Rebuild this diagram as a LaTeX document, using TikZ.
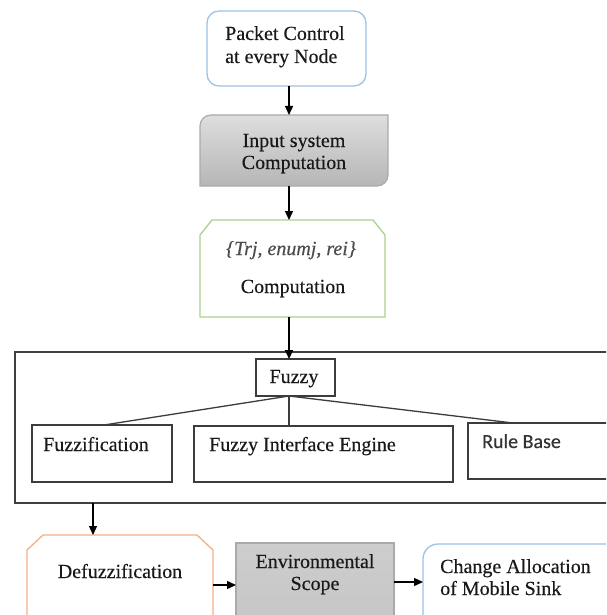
\documentclass[tikz,border=0pt]{standalone}
\usepackage{fontspec}
\setmainfont{Liberation Serif}[FakeBold=0.35]
\newfontfamily\calib{Carlito}[FakeBold=0.35]
\usetikzlibrary{arrows.meta,calc}
\definecolor{bluec}{RGB}{157,195,230}
\definecolor{greenc}{RGB}{169,209,142}
\definecolor{orangec}{RGB}{244,177,131}
\definecolor{grayline}{RGB}{170,170,170}
\definecolor{graytop}{RGB}{222,222,222}
\definecolor{graybot}{RGB}{182,182,182}
\definecolor{envfill}{RGB}{196,196,196}
\definecolor{darkline}{RGB}{60,60,60}
\tikzset{
  holder/.style={rectangle, inner sep=0pt, outer sep=0pt},
  txt/.style={font=\fontsize{20}{23}\selectfont, inner sep=0pt, text=black!90},
  bluebox/.style={holder, draw=bluec, line width=1.3pt},
  plainbox/.style={holder, draw=darkline, line width=1.4pt},
  arr/.style={-{Triangle[length=9pt,width=8pt]}, line width=1.3pt, black},
  ln/.style={line width=1.3pt, darkline},
}
\begin{document}
\begin{tikzpicture}[x=1pt,y=1pt]
\useasboundingbox (0,0) rectangle (606,-615);
\clip (0,0) rectangle (606,-615);
\fill[white] (0,0) rectangle (606,-615);

% top box
\node[bluebox, rounded corners=12pt, minimum width=159pt, minimum height=75pt] (pc) at (286.5,-48.5) {};
\node[txt, anchor=base west] (pc1) at (225,-40) {Packet Control};
\node[txt, anchor=base west] (pc2) at (225,-63) {at every Node};

% input system box
\node[holder, minimum width=188pt, minimum height=71pt] (inp) at (294,-150.5) {};
\draw[draw=grayline, line width=1.2pt, top color=graytop, bottom color=graybot]
  (inp.south west) -- ([yshift=-11pt]inp.north west) arc[start angle=180,end angle=90,radius=11pt]
  -- (inp.north east) -- ([yshift=11pt]inp.south east) arc[start angle=0,end angle=-90,radius=11pt] -- cycle;
\node[txt, anchor=base] (inp1) at (294,-147) {Input system};
\node[txt, anchor=base] (inp2) at (294,-169) {Computation};

% computation box
\node[holder, minimum width=185pt, minimum height=97pt] (comp) at (292.5,-268.5) {};
\draw[draw=greenc, line width=1.3pt, fill=white]
  ([yshift=-15pt]comp.north west) -- ([xshift=12pt]comp.north west) -- ([xshift=-12pt]comp.north east)
  -- ([yshift=-15pt]comp.north east) -- (comp.south east) -- (comp.south west) -- cycle;
\node[txt, anchor=base, font=\fontsize{20}{23}\selectfont\itshape, text=black!70] (comp1) at (291,-255) {\{Trj, enumj, rei\}};
\node[txt, anchor=base] (comp2) at (293,-293) {Computation};

% outer fuzzy frame
\node[holder, draw=black!75, line width=1.5pt, minimum width=620pt, minimum height=151pt] (outer) at (325,-427.5) {};
\node[plainbox, minimum width=79pt, minimum height=37pt] (fuzzy) at (295.5,-377.5) {};
\node[txt, anchor=base] (fuzzyt) at (294,-383) {Fuzzy};
\node[plainbox, minimum width=140pt, minimum height=57pt] (fz) at (102,-453.5) {};
\node[txt, anchor=base west] (fzt) at (43,-451) {Fuzzification};
\node[plainbox, minimum width=259pt, minimum height=56pt] (fie) at (323.5,-454) {};
\node[txt, anchor=base west] (fiet) at (209,-451) {Fuzzy Interface Engine};
\node[plainbox, minimum width=172pt, minimum height=56pt] (rb) at (554,-451) {};
\node[txt, anchor=base west, font=\calib\fontsize{20}{23}\selectfont, text=black!80] (rbt) at (482,-448) {Rule Base};

% bottom row
\node[holder, minimum width=186pt, minimum height=115pt] (defuzz) at (120,-592.5) {};
\draw[draw=orangec, line width=1.3pt, fill=white]
  (defuzz.south west) -- ([yshift=-15pt]defuzz.north west) -- ([xshift=16pt]defuzz.north west)
  -- ([xshift=-16pt]defuzz.north east) -- ([yshift=-15pt]defuzz.north east) -- (defuzz.south east) -- cycle;
\node[txt, anchor=base] (defuzzt) at (120,-578) {Defuzzification};

\node[holder, draw=grayline, line width=1.2pt, top color=envfill!85!white, bottom color=envfill, minimum width=158pt, minimum height=107pt] (env) at (315,-596.5) {};
\node[txt, anchor=base] (env1) at (315,-568) {Environmental};
\node[txt, anchor=base] (env2) at (315,-590) {Scope};

\node[bluebox, rounded corners=15pt, minimum width=217pt, minimum height=116pt] (ca) at (531.5,-602) {};
\node[txt, anchor=base west] (ca1) at (440,-573) {Change Allocation};
\node[txt, anchor=base west] (ca2) at (440,-595) {of Mobile Sink};

% connectors
\coordinate (cx) at (289,0);
\coordinate (a1) at (104,0);
\coordinate (a3) at (513,0);
\coordinate (dx) at (93,0);
\coordinate (r1) at (0,-585);
\coordinate (r2) at (0,-582);
\draw[arr] (pc.south -| cx) -- (inp.north -| cx);
\draw[arr] (inp.south -| cx) -- (comp.north -| cx);
\draw[arr, line width=2.2pt] (comp.south -| cx) -- (fuzzy.north -| cx);
\coordinate (fj) at (fuzzy.south -| cx);
\draw[ln] (fj) -- (fz.north -| a1);
\draw[ln] (fj) -- (fie.north -| cx);
\draw[ln] (fj) -- (rb.north -| a3);
\draw[arr] (outer.south -| dx) -- (defuzz.north -| dx);
\draw[arr] (defuzz.east |- r1) -- (env.west |- r1);
\draw[arr] (env.east |- r2) -- (ca.west |- r2);
\end{tikzpicture}
\end{document}
